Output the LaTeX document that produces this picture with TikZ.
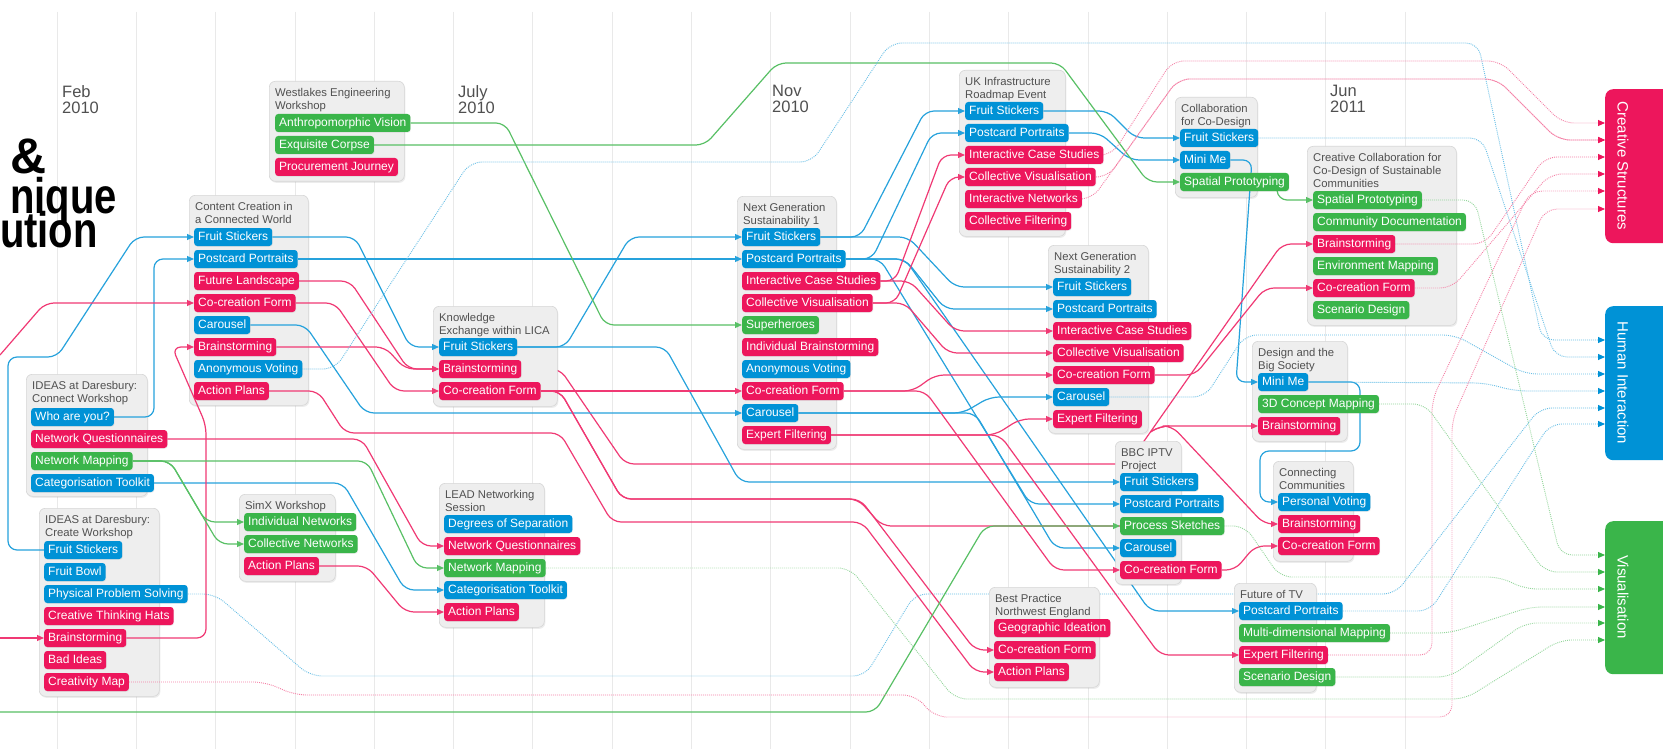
\documentclass[tikz,border=0pt]{standalone}
\usepackage{fontspec}
\setmainfont{Liberation Sans}
\usepackage{graphicx}
\usepackage{tikz}
\usetikzlibrary{arrows.meta,shadows,positioning}

\definecolor{cblue}{RGB}{0,146,214}
\definecolor{cpink}{RGB}{237,22,92}
\definecolor{cgreen}{RGB}{58,181,74}
\definecolor{boxgray}{RGB}{238,238,238}
\definecolor{boxline}{RGB}{214,214,214}
\definecolor{txtgray}{RGB}{80,80,80}
\definecolor{gridgray}{RGB}{233,233,233}

\pgfdeclarelayer{grid}
\pgfdeclarelayer{under}
\pgfdeclarelayer{boxes}
\pgfdeclarelayer{lines}
\pgfsetlayers{grid,under,boxes,lines,main}

\tikzset{
  gridln/.style={draw=gridgray, line width=0.8pt},
  month/.style={anchor=north west, inner sep=0pt, align=left, text=txtgray, font=\fontsize{16.5}{16}\selectfont},
  bigtitle/.style={anchor=base east, inner sep=0pt, font=\fontsize{50}{50}\selectfont\bfseries},
  event/.style={draw=boxline, fill=boxgray, rounded corners=6pt, line width=0.6pt, anchor=north west, inner sep=0pt, minimum width=#1,
    drop shadow={opacity=0.15, shadow xshift=1pt, shadow yshift=-1.5pt}},
  evtitle/.style={anchor=north west, inner sep=0pt, align=left, text=txtgray, font=\fontsize{11.3}{13}\selectfont},
  tag/.style={fill=#1, text=white, anchor=west, rounded corners=3pt, minimum height=18pt, inner ysep=0pt, inner xsep=4pt,
    text height=8.6pt, text depth=2.4pt, font=\fontsize{12}{14}\selectfont,
    drop shadow={opacity=0.12, shadow xshift=0.6pt, shadow yshift=-0.8pt}},
  catbox/.style={fill=#1, rounded corners=8pt, anchor=north west, inner sep=0pt, minimum width=80pt},
  cattext/.style={text=white, inner sep=0pt, rotate=-90, font=\fontsize{15}{18}\selectfont},
  ln/.style={line width=1.2pt, rounded corners=9pt, line join=round, -{Triangle[length=7pt,width=6pt]}},
  bl/.style={ln, draw=cblue!85!white},
  pk/.style={ln, draw=cpink!85!white},
  gr/.style={ln, draw=cgreen!85!white},
  dt/.style={line width=0.9pt, dash pattern=on 0.9pt off 1.1pt, rounded corners=12pt},
  bld/.style={dt, draw=cblue!60!white, -{Triangle[length=7pt,width=6pt,color=cblue]}},
  pkd/.style={dt, draw=cpink!55!white, -{Triangle[length=7pt,width=6pt,color=cpink]}},
  grd/.style={dt, draw=cgreen!55!white, -{Triangle[length=7pt,width=6pt,color=cgreen]}},
}

\begin{document}
\begin{tikzpicture}[x=1pt,y=-1pt]
\useasboundingbox (0,0) rectangle (1663,749);
\clip (0,0) rectangle (1663,749);

% time grid
\begin{pgfonlayer}{grid}
\fill[white] (0,0) rectangle (1663,749);
\foreach \k in {0,...,17}
  \draw[gridln] ({57+79.3*\k},12) -- ({57+79.3*\k},749);
\end{pgfonlayer}

\node[month] (m-feb) at (62,85) {Feb\\2010};
\node[month] (m-jul) at (458,85) {July\\2010};
\node[month] (m-nov) at (772,85) {Nov\\2010};
\node[month] (m-jun) at (1330,85) {Jun\\2011};

\node[bigtitle] (t-amp) at (47,173) {\&};
\node[bigtitle] (t-tec) at (117,213) {\scalebox{0.8}[1]{nique}};
\node[bigtitle] (t-evo) at (98,247) {\scalebox{0.8}[1]{ution}};

% event boxes
\begin{pgfonlayer}{boxes}
\node[event=135, minimum height=100] (wl) at (269,81) {};
\node[event=119, minimum height=210] (cc) at (189,195) {};
\node[event=121, minimum height=122] (ic) at (26,374) {};
\node[event=120, minimum height=188] (id) at (39,508) {};
\node[event=96, minimum height=87] (sx) at (239,494) {};
\node[event=124, minimum height=100] (ke) at (433,306) {};
\node[event=105, minimum height=144] (ld) at (439,483) {};
\node[event=99, minimum height=253] (n1) at (737,196) {};
\node[event=106, minimum height=166] (uk) at (959,70) {};
\node[event=82, minimum height=100] (co) at (1175,97) {};
\node[event=149, minimum height=179] (cd) at (1307,146) {};
\node[event=100, minimum height=188] (n2) at (1048,245) {};
\node[event=66, minimum height=143] (bb) at (1115,441) {};
\node[event=110, minimum height=100] (bp) at (989,587) {};
\node[event=95, minimum height=100] (ds) at (1252,341) {};
\node[event=80, minimum height=100] (cm) at (1273,461) {};
\node[event=82, minimum height=109] (tv) at (1234,583) {};
\end{pgfonlayer}

\node[evtitle] (wl-t) at (275,88.5) {Westlakes Engineering\\Workshop};
\node[tag=cgreen] (wl-av) at (275,123) {Anthropomorphic Vision};
\node[tag=cgreen] (wl-ec) at (275,145) {Exquisite Corpse};
\node[tag=cpink] (wl-pj) at (275,167) {Procurement Journey};

\node[evtitle] (cc-t) at (195,202.5) {Content Creation in\\a Connected World};
\node[tag=cblue] (cc-fs) at (194,237) {Fruit Stickers};
\node[tag=cblue] (cc-pp) at (194,259) {Postcard Portraits};
\node[tag=cpink] (cc-fl) at (194,281) {Future Landscape};
\node[tag=cpink] (cc-cf) at (194,303) {Co-creation Form};
\node[tag=cblue] (cc-ca) at (194,325) {Carousel};
\node[tag=cpink] (cc-bs) at (194,347) {Brainstorming};
\node[tag=cblue] (cc-vo) at (194,369) {Anonymous Voting};
\node[tag=cpink] (cc-ap) at (194,391) {Action Plans};

\node[evtitle] (ic-t) at (32,381.5) {IDEAS at Daresbury:\\Connect Workshop};
\node[tag=cblue] (ic-wa) at (31,417) {Who are you?};
\node[tag=cpink] (ic-nq) at (31,439) {Network Questionnaires};
\node[tag=cgreen] (ic-nm) at (31,461) {Network Mapping};
\node[tag=cblue] (ic-ct) at (31,483) {Categorisation Toolkit};

\node[evtitle] (id-t) at (45,515.5) {IDEAS at Daresbury:\\Create Workshop};
\node[tag=cblue] (id-fs) at (44,550) {Fruit Stickers};
\node[tag=cblue] (id-fb) at (44,572) {Fruit Bowl};
\node[tag=cblue] (id-ps) at (44,594) {Physical Problem Solving};
\node[tag=cpink] (id-th) at (44,616) {Creative Thinking Hats};
\node[tag=cpink] (id-bs) at (44,638) {Brainstorming};
\node[tag=cpink] (id-bi) at (44,660) {Bad Ideas};
\node[tag=cpink] (id-cm) at (44,682) {Creativity Map};

\node[evtitle] (sx-t) at (245,501.5) {SimX Workshop};
\node[tag=cgreen] (sx-in) at (244,522) {Individual Networks};
\node[tag=cgreen] (sx-cn) at (244,544) {Collective Networks};
\node[tag=cpink] (sx-ap) at (244,566) {Action Plans};

\node[evtitle] (ke-t) at (439,313.5) {Knowledge\\Exchange within LICA};
\node[tag=cblue] (ke-fs) at (439,347) {Fruit Stickers};
\node[tag=cpink] (ke-bs) at (439,369) {Brainstorming};
\node[tag=cpink] (ke-cf) at (439,391) {Co-creation Form};

\node[evtitle] (ld-t) at (445,490.5) {LEAD Networking\\Session};
\node[tag=cblue] (ld-ds) at (444,524) {Degrees of Separation};
\node[tag=cpink] (ld-nq) at (444,546) {Network Questionnaires};
\node[tag=cgreen] (ld-nm) at (444,568) {Network Mapping};
\node[tag=cblue] (ld-ct) at (444,590) {Categorisation Toolkit};
\node[tag=cpink] (ld-ap) at (444,612) {Action Plans};

\node[evtitle] (n1-t) at (743,203.5) {Next Generation\\Sustainability 1};
\node[tag=cblue] (n1-fs) at (742,237) {Fruit Stickers};
\node[tag=cblue] (n1-pp) at (742,259) {Postcard Portraits};
\node[tag=cpink] (n1-ic) at (742,281) {Interactive Case Studies};
\node[tag=cpink] (n1-cv) at (742,303) {Collective Visualisation};
\node[tag=cgreen] (n1-sh) at (742,325) {Superheroes};
\node[tag=cpink] (n1-ib) at (742,347) {Individual Brainstorming};
\node[tag=cblue] (n1-vo) at (742,369) {Anonymous Voting};
\node[tag=cpink] (n1-cf) at (742,391) {Co-creation Form};
\node[tag=cblue] (n1-ca) at (742,413) {Carousel};
\node[tag=cpink] (n1-ef) at (742,435) {Expert Filtering};

\node[evtitle] (uk-t) at (965,77.5) {UK Infrastructure\\Roadmap Event};
\node[tag=cblue] (uk-fs) at (965,111) {Fruit Stickers};
\node[tag=cblue] (uk-pp) at (965,133) {Postcard Portraits};
\node[tag=cpink] (uk-ic) at (965,155) {Interactive Case Studies};
\node[tag=cpink] (uk-cv) at (965,177) {Collective Visualisation};
\node[tag=cpink] (uk-in) at (965,199) {Interactive Networks};
\node[tag=cpink] (uk-cf) at (965,221) {Collective Filtering};

\node[evtitle] (co-t) at (1181,104.5) {Collaboration\\for Co-Design};
\node[tag=cblue] (co-fs) at (1180,138) {Fruit Stickers};
\node[tag=cblue] (co-mm) at (1180,160) {Mini Me};
\node[tag=cgreen] (co-sp) at (1180,182) {Spatial Prototyping};

\node[evtitle] (cd-t) at (1313,153.5) {Creative Collaboration for\\Co-Design of Sustainable\\Communities};
\node[tag=cgreen] (cd-sp) at (1313,200) {Spatial Prototyping};
\node[tag=cgreen] (cd-cd) at (1313,222) {Community Documentation};
\node[tag=cpink] (cd-bs) at (1313,244) {Brainstorming};
\node[tag=cgreen] (cd-em) at (1313,266) {Environment Mapping};
\node[tag=cpink] (cd-cf) at (1313,288) {Co-creation Form};
\node[tag=cgreen] (cd-sd) at (1313,310) {Scenario Design};

\node[evtitle] (n2-t) at (1054,252.5) {Next Generation\\Sustainability 2};
\node[tag=cblue] (n2-fs) at (1053,287) {Fruit Stickers};
\node[tag=cblue] (n2-pp) at (1053,309) {Postcard Portraits};
\node[tag=cpink] (n2-ic) at (1053,331) {Interactive Case Studies};
\node[tag=cpink] (n2-cv) at (1053,353) {Collective Visualisation};
\node[tag=cpink] (n2-cf) at (1053,375) {Co-creation Form};
\node[tag=cblue] (n2-ca) at (1053,397) {Carousel};
\node[tag=cpink] (n2-ef) at (1053,419) {Expert Filtering};

\node[evtitle] (bb-t) at (1121,448.5) {BBC IPTV\\Project};
\node[tag=cblue] (bb-fs) at (1120,482) {Fruit Stickers};
\node[tag=cblue] (bb-pp) at (1120,504) {Postcard Portraits};
\node[tag=cgreen] (bb-ps) at (1120,526) {Process Sketches};
\node[tag=cblue] (bb-ca) at (1120,548) {Carousel};
\node[tag=cpink] (bb-cf) at (1120,570) {Co-creation Form};

\node[evtitle] (bp-t) at (995,594.5) {Best Practice\\Northwest England};
\node[tag=cpink] (bp-gi) at (994,628) {Geographic Ideation};
\node[tag=cpink] (bp-cf) at (994,650) {Co-creation Form};
\node[tag=cpink] (bp-ap) at (994,672) {Action Plans};

\node[evtitle] (ds-t) at (1258,348.5) {Design and the\\Big Society};
\node[tag=cblue] (ds-mm) at (1258,382) {Mini Me};
\node[tag=cgreen] (ds-cm) at (1258,404) {3D Concept Mapping};
\node[tag=cpink] (ds-bs) at (1258,426) {Brainstorming};

\node[evtitle] (cm-t) at (1279,468.5) {Connecting\\Communities};
\node[tag=cblue] (cm-pv) at (1278,502) {Personal Voting};
\node[tag=cpink] (cm-bs) at (1278,524) {Brainstorming};
\node[tag=cpink] (cm-cf) at (1278,546) {Co-creation Form};

\node[evtitle] (tv-t) at (1240,590.5) {Future of TV};
\node[tag=cblue] (tv-pp) at (1239,611) {Postcard Portraits};
\node[tag=cgreen] (tv-mm) at (1239,633) {Multi-dimensional Mapping};
\node[tag=cpink] (tv-ef) at (1239,655) {Expert Filtering};
\node[tag=cgreen] (tv-sd) at (1239,677) {Scenario Design};

% categories
\node[catbox=cpink, minimum height=154] (cs) at (1605,89) {};
\node[cattext] (cs-t) at (1623,166) {Creative Structures};
\node[catbox=cblue, minimum height=154] (hi) at (1605,306) {};
\node[cattext] (hi-t) at (1623,383) {Human Interaction};
\node[catbox=cgreen, minimum height=153] (vs) at (1605,521) {};
\node[cattext] (vs-t) at (1623,597) {Visualisation};

\foreach \i/\yy in {1/123,2/140,3/157,4/174,5/191,6/209} \coordinate (cs\i) at (1605,\yy);
\foreach \i/\yy in {1/340,2/357,3/374,4/391,5/408,6/424} \coordinate (hi\i) at (1605,\yy);
\foreach \i/\yy in {1/555,2/572,3/589,4/607,5/623,6/640} \coordinate (vs\i) at (1605,\yy);
\coordinate (inA) at (0,355);
\coordinate (inB) at (0,638);
\coordinate (inC) at (0,712);
\coordinate (bsA) at (1150.4,432);
\coordinate (ppA) at (1135.4,590);

% links that pass behind boxes
\begin{pgfonlayer}{under}
\draw[pk,-] (ke-bs.east) -- (560,369) -- (625,464) -- (1128,464) -- (bsA);
\draw[bl,-] (n1-pp.east) -- (905,259) -- (ppA);
\draw[bld] (id-ps.east) -- (215,594) -- (310,676) -- (865,676) -- (915,594) -- (1395,594) -- (1540,408) -- (hi5);
\end{pgfonlayer}

\begin{pgfonlayer}{lines}
% blue
\draw[bl] (id-fs.west) -- (8,550) -- (8,357) -- (57,357) -- (135,237) -- (cc-fs.west);
\draw[bl] (cc-fs.east) -- (355,237) -- (410,347) -- (ke-fs.west);
\draw[bl] (ic-wa.east) -- (154,417) -- (154,259) -- (cc-pp.west);
\draw[bl] (cc-pp.east) -- (n1-pp.west);
\draw[bl] (cc-ca.east) -- (305,325) -- (365,413) -- (n1-ca.west);
\draw[bl] (ic-ct.east) -- (343,483) -- (405,590) -- (ld-ct.west);
\draw[bl] (ke-fs.east) -- (565,347) -- (630,237) -- (n1-fs.west);
\draw[bl] (ke-fs.east) -- (665,347) -- (740,482) -- (bb-fs.west);
\draw[bl] (n1-fs.east) -- (860,237) -- (925,111) -- (uk-fs.west);
\draw[bl] (n1-fs.east) -- (908,237) -- (955,287) -- (n2-fs.west);
\draw[bl] (n1-pp.east) -- (872,259) -- (932,133) -- (uk-pp.west);
\draw[bl] (n1-pp.east) -- (905,259) -- (945,309) -- (n2-pp.west);
\draw[bl] (n1-pp.east) -- (880,259) -- (1030,504) -- (bb-pp.west);
\draw[bl] (ppA) -- (1150,611) -- (tv-pp.west);
\draw[bl] (n1-ca.east) -- (963,413) -- (990,397) -- (n2-ca.west);
\draw[bl] (n1-ca.east) -- (975,413) -- (1055,548) -- (bb-ca.west);
\draw[bl] (uk-fs.east) -- (1108,111) -- (1135,138) -- (co-fs.west);
\draw[bl] (uk-pp.east) -- (1100,133) -- (1130,160) -- (co-mm.west);
\draw[bl] (co-mm.east) -- (1252,160) -- (1236,382) -- (ds-mm.west);
\draw[bl] (ds-mm.east) -- (1360,382) -- (1360,451) -- (1260,451) -- (1260,502) -- (cm-pv.west);
% pink
\draw[pk] (inA) -- (45,303) -- (cc-cf.west);
\draw[pk] (inB) -- (id-bs.west);
\draw[pk] (id-bs.east) -- (206,638) -- (206,425) -- (172,347) -- (cc-bs.west);
\draw[pk] (cc-fl.east) -- (350,281) -- (408,369) -- (ke-bs.west);
\draw[pk] (cc-bs.east) -- (385,347) -- (405,369) -- (ke-bs.west);
\draw[pk] (cc-cf.east) -- (335,303) -- (395,391) -- (ke-cf.west);
\draw[pk] (cc-ap.east) -- (318,391) -- (345,433) -- (560,433) -- (612,522) -- (862,522) -- (975,672) -- (bp-ap.west);
\draw[pk] (ic-nq.east) -- (362,439) -- (422,546) -- (ld-nq.west);
\draw[pk] (sx-ap.east) -- (367,566) -- (405,612) -- (ld-ap.west);
\draw[pk] (ke-cf.east) -- (n1-cf.west);
\draw[pk] (ke-cf.east) -- (560,391) -- (622,499) -- (860,499) -- (975,650) -- (bp-cf.west);
\draw[pk,-] (ke-cf.east) -- (560,391) -- (622,499) -- (858,499) -- (882,526) -- (bb-ps.west);
\draw[pk] (n1-ic.east) -- (895,281) -- (942,155) -- (uk-ic.west);
\draw[pk] (n1-cv.east) -- (895,303) -- (950,177) -- (uk-cv.west);
\draw[pk] (n1-ic.east) -- (910,281) -- (955,331) -- (n2-ic.west);
\draw[pk] (n1-cv.east) -- (905,303) -- (948,353) -- (n2-cv.west);
\draw[pk] (n1-cf.east) -- (913,391) -- (935,375) -- (n2-cf.west);
\draw[pk] (n1-cf.east) -- (925,391) -- (1055,570) -- (bb-cf.west);
\draw[pk] (n1-ef.east) -- (995,435) -- (1020,419) -- (n2-ef.west);
\draw[pk] (n1-ef.east) -- (1000,435) -- (1160,655) -- (tv-ef.west);
\draw[pk] (n2-cf.east) -- (1195,375) -- (1265,288) -- (cd-cf.west);
\draw[pk] (bb-cf.east) -- (1235,570) -- (1255,546) -- (cm-cf.west);
\draw[pk] (bsA) -- (1282,244) -- (cd-bs.west);
\draw[pk] (bsA) -- (1160,426) -- (ds-bs.west);
\draw[pk] (bsA) -- (1160,426) -- (1172,426) -- (1264,524) -- (cm-bs.west);
% green
\draw[gr] (wl-av.east) -- (505,123) -- (605,325) -- (n1-sh.west);
\draw[gr] (wl-ec.east) -- (705,145) -- (777,63) -- (1060,63) -- (1148,182) -- (co-sp.west);
\draw[gr] (ic-nm.east) -- (170,461) -- (206,522) -- (sx-in.west);
\draw[gr] (ic-nm.east) -- (170,461) -- (219,544) -- (sx-cn.west);
\draw[gr] (ic-nm.east) -- (367,461) -- (418,568) -- (ld-nm.west);
\draw[gr] (inC) -- (875,712) -- (985,526) -- (bb-ps.west);
\draw[gr] ([xshift=-12pt]co-sp.south east) -- (1278,200) -- (cd-sp.west);
% dotted, to the three themes
\draw[bld] (cc-vo.east) -- (335,369) -- (470,162) -- (812,162) -- (890,43) -- (1478,43) -- (1542,340) -- (hi1);
\draw[bld] (co-fs.east) -- (1482,138) -- (1555,357) -- (hi2);
\draw[bld] (n2-ca.east) -- (1205,397) -- (1245,335) -- (1455,335) -- (1525,374) -- (hi3);
\draw[bld] (ds-mm.east) -- (1485,383) -- (1515,391) -- (hi4);
\draw[bld] (tv-pp.east) -- (1430,611) -- (1550,424) -- (hi6);
\draw[pkd] (uk-ic.east) -- (1112,155) -- (1172,61) -- (1500,61) -- (1562,123) -- (cs1);
\draw[pkd] (uk-cv.east) -- (1108,177) -- (1178,79) -- (1497,79) -- (1558,140) -- (cs2);
\draw[pkd] (uk-in.east) -- (1092,199) -- (1178,79) -- (1497,79) -- (1558,140) -- (cs2);
\draw[pkd] (cd-bs.east) -- (1485,244) -- (1545,157) -- (cs3);
\draw[pkd] (cd-cf.east) -- (1452,288) -- (1550,174) -- (cs4);
\draw[pkd] (tv-ef.east) -- (1432,655) -- (1432,400) -- (1530,191) -- (cs5);
\draw[pkd] (id-cm.east) -- (265,682) -- (295,695) -- (915,695) -- (935,717) -- (1452,717) -- (1452,420) -- (1545,209) -- (cs6);
\draw[grd] (cd-sp.east) -- (1475,200) -- (1560,555) -- (vs1);
\draw[grd] (ds-cm.east) -- (1425,404) -- (1545,572) -- (vs2);
\draw[grd] (bb-ps.east) -- (1245,526) -- (1280,577) -- (1500,577) -- (1525,589) -- (vs3);
\draw[grd] (tv-mm.east) -- (1450,633) -- (1530,607) -- (vs4);
\draw[grd] (tv-sd.east) -- (1450,677) -- (1525,623) -- (vs5);
\draw[grd] (ld-nm.east) -- (850,568) -- (955,699) -- (1465,699) -- (1560,640) -- (vs6);
\end{pgfonlayer}
\end{tikzpicture}
\end{document}
